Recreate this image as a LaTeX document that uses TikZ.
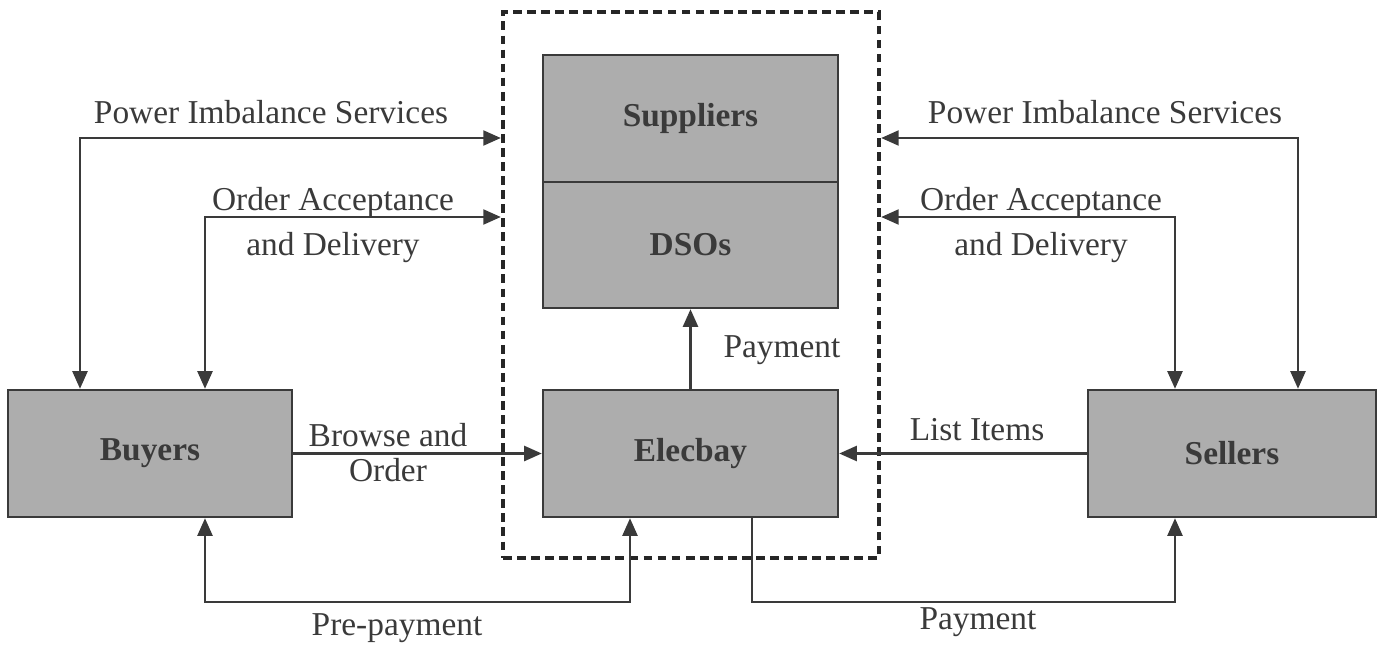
\documentclass[tikz,border=0pt]{standalone}
\usepackage{fontspec}
\setmainfont{Liberation Serif}
\usetikzlibrary{arrows.meta}
\definecolor{ink}{HTML}{3A3A3A}
\definecolor{boxfill}{HTML}{ADADAD}
\begin{document}
\begin{tikzpicture}[x=0.02cm,y=-0.02cm,
  lbl/.style={font=\fontsize{19}{26}\selectfont, text=ink, align=center, inner sep=0pt},
  entity/.style={draw=ink, line width=1.4pt, fill=boxfill, text=ink,
    font=\fontsize{19}{26}\selectfont\bfseries, inner sep=0pt},
  market/.style={draw=black!85, line width=2.5pt, dash pattern=on 5pt off 3pt, inner sep=0pt},
  tip/.tip={Triangle[length=10pt,width=8.5pt]},
  flow/.style={draw=ink, line width=1.4pt, -tip},
  dual/.style={draw=ink, line width=1.4pt, tip-tip}]
\useasboundingbox (0,0) rectangle (1384,649);

% market operator boundary
\node[market, minimum width=7.52cm, minimum height=10.92cm] (mk) at (691,285) {};

% entities
\node[entity, minimum width=5.90cm, minimum height=2.54cm] (sup) at (690.5,118.5) {Suppliers};
\node[entity, minimum width=5.90cm, minimum height=2.52cm] (dso) at (690.5,245) {DSOs};
\node[entity, minimum width=5.90cm, minimum height=2.54cm] (elec) at (690.5,453.5) {Elecbay};
\node[entity, minimum width=5.68cm, minimum height=2.54cm] (buy) at (150,453.5) {Buyers};
\node[entity, minimum width=5.76cm, minimum height=2.54cm] (sel) at (1232,453.5) {Sellers};

% routing corners
\coordinate (lp) at (80,138);
\coordinate (lo) at (205,217);
\coordinate (rp) at (1298,138);
\coordinate (ro) at (1175,217);
\coordinate (pa) at (205,602);
\coordinate (pb) at (630,602);
\coordinate (qa) at (752,602);
\coordinate (qb) at (1175,602);

% buyer side services
\draw[dual] (buy.north -| lp) |- (mk.west |- lp);
\draw[dual] (buy.north -| lo) |- (mk.west |- lo);
% seller side services
\draw[dual] (sel.north -| rp) |- (mk.east |- rp);
\draw[dual] (sel.north -| ro) |- (mk.east |- ro);

% trading flows
\draw[flow] (buy.east) -- (elec.west);
\draw[flow] (sel.west) -- (elec.east);
\draw[flow] (elec.north) -- (dso.south);

% payments
\draw[dual] (buy.south -| pa) -- (pa) -- (pb) -- (elec.south -| pb);
\draw[flow] (elec.south -| qa) -- (qa) -- (qb) -- (sel.south -| qb);

% labels
\node[lbl] at (271,112) {Power Imbalance Services};
\node[lbl] at (333,225) {Order Acceptance\\and Delivery};
\node[lbl] at (1105,112) {Power Imbalance Services};
\node[lbl] at (1041,225) {Order Acceptance\\and Delivery};
\node[lbl] at (782,350) {Payment};
\node[lbl, font=\fontsize{19}{20}\selectfont] at (388,453) {Browse and\\Order};
\node[lbl] at (977,430) {List Items};
\node[lbl] at (397,628) {Pre-payment};
\node[lbl] at (978,622) {Payment};
\end{tikzpicture}
\end{document}
